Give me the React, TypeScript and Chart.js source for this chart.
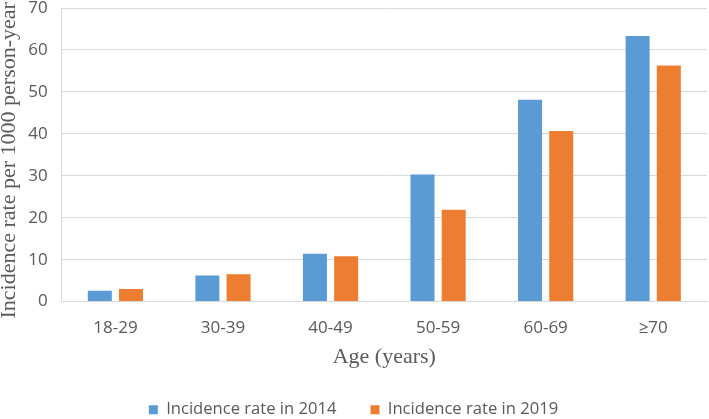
import React, { useEffect, useRef } from "react";
import { Chart, registerables } from "chart.js";

Chart.register(...registerables);

const categories = ["18-29", "30-39", "40-49", "50-59", "60-69", "≥70"];
const rate2014 = [2.6, 6.2, 11.4, 30.3, 48.1, 63.3];
const rate2019 = [3.0, 6.5, 10.8, 21.9, 40.7, 56.3];
const yTicks = [0, 10, 20, 30, 40, 50, 60, 70];

export default function App() {
  const ref = useRef<HTMLCanvasElement | null>(null);
  useEffect(() => {
    if (!ref.current) return;
    const tickColor = "#595959";
    const chart = new Chart(ref.current, {
      type: "bar",
      data: {
        labels: categories,
        datasets: [
          {
            label: "Incidence rate in 2014",
            data: rate2014,
            backgroundColor: "#5B9BD5",
            categoryPercentage: 0.58,
            barPercentage: 0.77,
          },
          {
            label: "Incidence rate in 2019",
            data: rate2019,
            backgroundColor: "#ED7D31",
            categoryPercentage: 0.58,
            barPercentage: 0.77,
          },
        ],
      },
      options: {
        animation: false,
        responsive: false,
        maintainAspectRatio: false,
        layout: { padding: { top: 0, right: 2, left: 0, bottom: -9 } },
        scales: {
          x: {
            grid: { display: false, drawTicks: false },
            border: { color: "#D9D9D9", width: 1 },
            ticks: {
              color: tickColor,
              font: { family: "'Open Sans', sans-serif", size: 17 },
              padding: 16,
            },
            title: {
              display: true,
              text: "Age (years)",
              color: tickColor,
              font: { family: "'Liberation Serif', serif", size: 22 },
              padding: { top: -10, bottom: -3 },
            },
          },
          y: {
            min: 0,
            max: 70,
            afterBuildTicks: (axis: any) => {
              axis.ticks = yTicks.map((v) => ({ value: v }));
            },
            afterFit: (axis: any) => {
              axis.paddingTop = 8;
            },
            grid: { color: "#D9D9D9", drawTicks: false },
            border: { display: true, color: "#D9D9D9" },
            ticks: {
              color: tickColor,
              font: { family: "'Open Sans', sans-serif", size: 17, lineHeight: 1 },
              padding: 14,
            },
            title: {
              display: true,
              text: "Incidence rate per 1000 person-year\u00a0\u00a0",
              color: tickColor,
              font: { family: "'Liberation Serif', serif", size: 22, lineHeight: 1.1 },
              padding: { top: -3, bottom: -7 },
            },
          },
        },
        plugins: {
          legend: {
            position: "bottom",
            labels: {
              color: tickColor,
              boxWidth: 9,
              boxHeight: 9,
              padding: 34,
              font: { family: "'Open Sans', sans-serif", size: 16.6 },
            },
          },
          tooltip: { enabled: false },
        },
      },
    });
    return () => chart.destroy();
  }, []);
  return (
    <div style={{ position: "fixed", left: 0, top: 0, width: 709, height: 419, background: "#fff" }}>
      <canvas ref={ref} width={709} height={419} />
    </div>
  );
}
